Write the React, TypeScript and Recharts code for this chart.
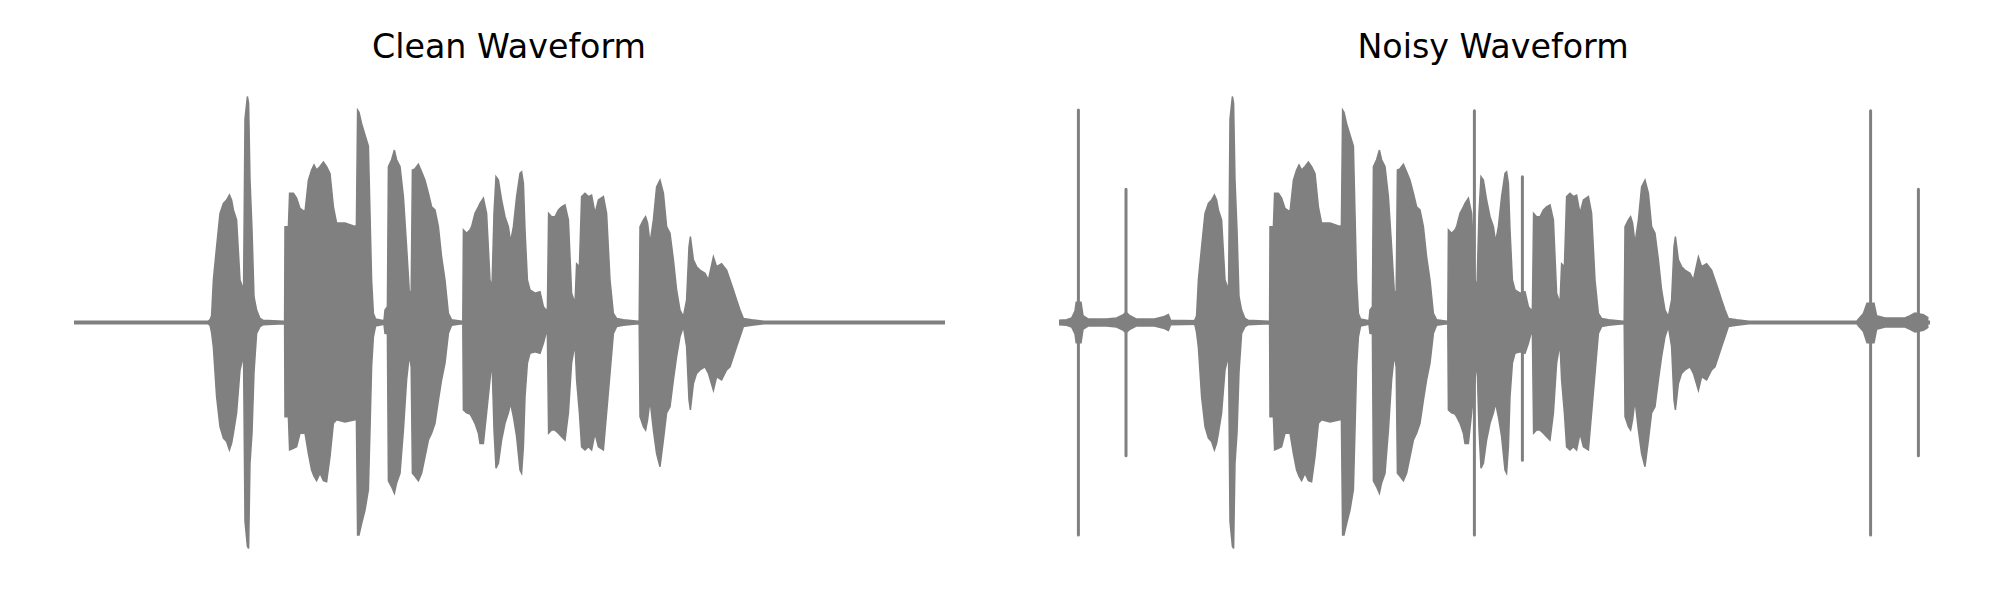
import React from "react";
import { ComposedChart, Area, Line, XAxis, YAxis } from "recharts";

// Time in ms, amplitude normalised. Each row: [time, upper envelope, lower envelope]
const cleanEnvelope: [number, number, number][] = [
  [0, 0.006, -0.006], [670, 0.006, -0.006], [680, 0.012, -0.012], [688, 0.03, -0.045],
  [697, 0.19, -0.11], [713, 0.335, -0.328], [730, 0.483, -0.461], [747, 0.527, -0.512],
  [763, 0.542, -0.527], [777, 0.564, -0.564], [788, 0.542, -0.535], [797, 0.498, -0.49],
  [813, 0.454, -0.4], [830, 0.188, -0.21], [842, 0.158, -0.166], [848, 0.16, -0.17],
  [855, 0.9, -0.88], [867, 1.0, -0.99], [873, 0.97, -1.0], [880, 0.63, -0.62],
  [890, 0.41, -0.49], [900, 0.114, -0.22], [913, 0.055, -0.048], [930, 0.018, -0.018],
  [945, 0.01, -0.01], [1050, 0.006, -0.006], [1053, 0.008, -0.008], [1055, 0.424, -0.417],
  [1072, 0.424, -0.417], [1078, 0.572, -0.564], [1097, 0.572, -0.557], [1113, 0.55, -0.55],
  [1130, 0.505, -0.49], [1155, 0.49, -0.49], [1172, 0.63, -0.58], [1188, 0.675, -0.653],
  [1200, 0.697, -0.68], [1213, 0.675, -0.7], [1230, 0.69, -0.667], [1247, 0.71, -0.7],
  [1263, 0.69, -0.705], [1280, 0.66, -0.594], [1297, 0.512, -0.446], [1313, 0.44, -0.43],
  [1355, 0.44, -0.44], [1405, 0.425, -0.43], [1412, 0.43, -0.43], [1418, 0.94, -0.94],
  [1425, 0.93, -0.94], [1438, 0.88, -0.89], [1455, 0.83, -0.83], [1472, 0.78, -0.74],
  [1480, 0.483, -0.476], [1488, 0.188, -0.196], [1497, 0.04, -0.063], [1508, 0.015, -0.015],
  [1550, 0.008, -0.008], [1555, 0.055, -0.048], [1567, 0.07, -0.05], [1572, 0.69, -0.7],
  [1588, 0.72, -0.727], [1602, 0.763, -0.756], [1613, 0.72, -0.71], [1630, 0.69, -0.667],
  [1647, 0.557, -0.476], [1663, 0.335, -0.254], [1677, 0.13, -0.14], [1686, 0.14, -0.2],
  [1692, 0.675, -0.667], [1705, 0.68, -0.68], [1722, 0.7, -0.7], [1738, 0.667, -0.667],
  [1755, 0.63, -0.594], [1772, 0.572, -0.52], [1788, 0.512, -0.49], [1805, 0.498, -0.446],
  [1822, 0.424, -0.343], [1838, 0.29, -0.254], [1855, 0.188, -0.18], [1872, 0.04, -0.048],
  [1888, 0.012, -0.012], [1940, 0.006, -0.006], [1944, 0.008, -0.008], [1947, 0.41, -0.387],
  [1963, 0.395, -0.4], [1980, 0.41, -0.405], [1988, 0.424, -0.417], [2005, 0.483, -0.446],
  [2022, 0.512, -0.49], [2030, 0.527, -0.535], [2047, 0.55, -0.535], [2063, 0.483, -0.4],
  [2080, 0.188, -0.254], [2090, 0.158, -0.166], [2100, 0.483, -0.476], [2110, 0.645, -0.645],
  [2122, 0.63, -0.623], [2138, 0.542, -0.52], [2155, 0.468, -0.446], [2172, 0.424, -0.4],
  [2183, 0.357, -0.357], [2197, 0.424, -0.417], [2213, 0.557, -0.505], [2230, 0.66, -0.653],
  [2238, 0.667, -0.667], [2247, 0.616, -0.55], [2255, 0.41, -0.328], [2267, 0.188, -0.18],
  [2280, 0.144, -0.136], [2305, 0.13, -0.13], [2330, 0.136, -0.136], [2347, 0.07, -0.092],
  [2360, 0.055, -0.048], [2367, 0.06, -0.05], [2373, 0.483, -0.49], [2388, 0.468, -0.476],
  [2405, 0.468, -0.476], [2422, 0.498, -0.49], [2438, 0.512, -0.505], [2455, 0.52, -0.52],
  [2472, 0.454, -0.4], [2488, 0.13, -0.18], [2505, 0.085, -0.092], [2513, 0.26, -0.254],
  [2527, 0.247, -0.4], [2538, 0.557, -0.55], [2555, 0.572, -0.564], [2572, 0.557, -0.55],
  [2588, 0.564, -0.564], [2605, 0.483, -0.49], [2622, 0.542, -0.55], [2647, 0.557, -0.564],
  [2663, 0.483, -0.4], [2680, 0.188, -0.225], [2697, 0.04, -0.048], [2713, 0.018, -0.018],
  [2747, 0.012, -0.012], [2822, 0.006, -0.006], [2826, 0.008, -0.008], [2830, 0.424, -0.417],
  [2847, 0.454, -0.461], [2858, 0.468, -0.476], [2868, 0.44, -0.43], [2880, 0.35, -0.343],
  [2897, 0.454, -0.476], [2913, 0.6, -0.58], [2930, 0.63, -0.638], [2947, 0.572, -0.52],
  [2963, 0.424, -0.4], [2980, 0.395, -0.373], [2997, 0.277, -0.254], [3013, 0.144, -0.151],
  [3030, 0.055, -0.063], [3047, 0.026, -0.018], [3063, 0.1, -0.107], [3075, 0.335, -0.343],
  [3082, 0.38, -0.387], [3097, 0.277, -0.27], [3113, 0.247, -0.225], [3130, 0.232, -0.21],
  [3155, 0.218, -0.196], [3172, 0.188, -0.225], [3197, 0.29, -0.3], [3213, 0.247, -0.24],
  [3238, 0.26, -0.254], [3263, 0.232, -0.21], [3280, 0.188, -0.196], [3297, 0.144, -0.151],
  [3313, 0.1, -0.107], [3330, 0.055, -0.063], [3347, 0.018, -0.018], [3388, 0.012, -0.012],
  [3450, 0.006, -0.006], [4355, 0.006, -0.006],
];

// Added noise floor in the noisy recording (start and end segments)
const noiseFloorStart: [number, number, number][] = [
  [0, 0.01, -0.01], [38, 0.012, -0.012], [63, 0.02, -0.02], [80, 0.05, -0.05],
  [86, 0.09, -0.09], [110, 0.09, -0.09], [120, 0.03, -0.03], [147, 0.015, -0.015],
  [238, 0.015, -0.015], [288, 0.02, -0.02], [322, 0.035, -0.035], [335, 0.045, -0.045],
  [355, 0.03, -0.03], [388, 0.015, -0.015], [472, 0.015, -0.015], [522, 0.025, -0.025],
  [547, 0.035, -0.035], [558, 0.01, -0.01], [688, 0.008, -0.008],
];

const noiseFloorEnd: [number, number, number][] = [
  [3990, 0.006, -0.006], [3997, 0.015, -0.015], [4022, 0.04, -0.04], [4040, 0.085, -0.09],
  [4075, 0.085, -0.09], [4088, 0.03, -0.03], [4130, 0.02, -0.02], [4230, 0.02, -0.02],
  [4255, 0.03, -0.03], [4280, 0.042, -0.042], [4322, 0.035, -0.035], [4347, 0.02, -0.02],
];

// Impulsive clicks: [time, peak, trough]
const impulses: [number, number, number][] = [
  [97, 0.94, -0.94], [335, 0.59, -0.59], [2077, 0.937, -0.94],
  [2317, 0.645, -0.61], [4058, 0.937, -0.94], [4297, 0.59, -0.59],
];

const titles = ["Clean Waveform", "Noisy Waveform"];

const GREY = "#808080";
const T_DOMAIN: [number, number] = [0, 4355];
const Y_DOMAIN: [number, number] = [-1.1, 1.1];

type Row = { t: number; wave?: [number, number]; nA?: [number, number]; nB?: [number, number]; imp?: number };

const cleanRows: Row[] = cleanEnvelope.map(([t, hi, lo]) => ({ t, wave: [lo, hi] }));

const noisyRows: Row[] = (() => {
  const rows: Row[] = [];
  cleanEnvelope.forEach(([t, hi, lo]) => rows.push({ t, wave: [lo, hi] }));
  noiseFloorStart.forEach(([t, hi, lo]) => rows.push({ t: t + 0.001, nA: [lo, hi] }));
  noiseFloorEnd.forEach(([t, hi, lo]) => rows.push({ t: t + 0.001, nB: [lo, hi] }));
  impulses.forEach(([t, hi, lo]) => {
    rows.push({ t: t + 0.002, imp: hi });
    rows.push({ t: t + 0.003, imp: lo });
    rows.push({ t: t + 0.004 });
  });
  rows.sort((a, b) => a.t - b.t);
  return rows;
})();

function Panel({ rows, title, marginLeft, marginRight, titleX, noisy }: {
  rows: Row[]; title: string; marginLeft: number; marginRight: number; titleX: number; noisy: boolean;
}) {
  return (
    <div style={{ position: "relative", width: 1000, height: 600 }}>
      <ComposedChart
        width={1000}
        height={600}
        data={rows}
        margin={{ top: 73.9, bottom: 28.9, left: marginLeft, right: marginRight }}
      >
        <XAxis dataKey="t" type="number" domain={T_DOMAIN} hide allowDataOverflow />
        <YAxis type="number" domain={Y_DOMAIN} hide allowDataOverflow />
        <Area
          dataKey="wave"
          type="linear"
          fill={GREY}
          fillOpacity={1}
          stroke={GREY}
          strokeWidth={1.5}
          connectNulls
          dot={false}
          activeDot={false}
          isAnimationActive={false}
        />
        {noisy && (
          <Area dataKey="nA" type="linear" fill={GREY} fillOpacity={1} stroke={GREY} strokeWidth={1.5}
            connectNulls dot={false} activeDot={false} isAnimationActive={false} />
        )}
        {noisy && (
          <Area dataKey="nB" type="linear" fill={GREY} fillOpacity={1} stroke={GREY} strokeWidth={1.5}
            connectNulls dot={false} activeDot={false} isAnimationActive={false} />
        )}
        {noisy && (
          <Line dataKey="imp" type="linear" stroke={GREY} strokeWidth={3} strokeLinecap="round"
            connectNulls={false} dot={false} activeDot={false} isAnimationActive={false} />
        )}
      </ComposedChart>
      <svg width={1000} height={600} style={{ position: "absolute", left: 0, top: 0, pointerEvents: "none" }}>
        <text x={titleX} y={58} textAnchor="middle" fontFamily="DejaVu Sans" fontSize={33.3} fill="#000">
          {title}
        </text>
      </svg>
    </div>
  );
}

export default function App() {
  return (
    <div style={{ position: "absolute", left: 0, top: 0, width: 2000, height: 600, display: "flex", background: "#fff" }}>
      <Panel rows={cleanRows} title={titles[0]} marginLeft={74} marginRight={55} titleX={509} noisy={false} />
      <Panel rows={noisyRows} title={titles[1]} marginLeft={59} marginRight={70} titleX={493} noisy />
    </div>
  );
}
